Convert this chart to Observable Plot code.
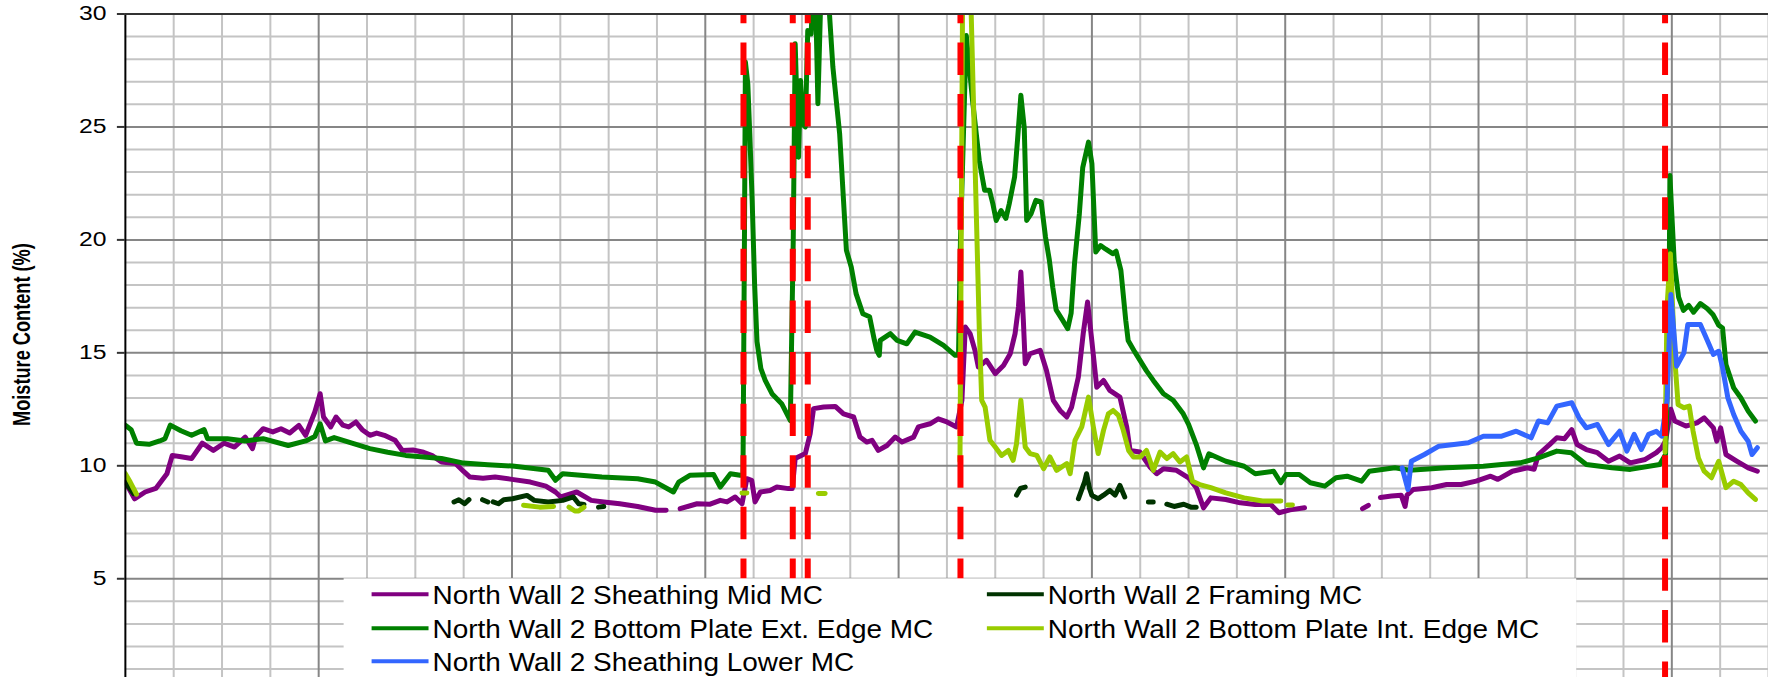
<!DOCTYPE html>
<html><head><meta charset="utf-8">
<script src="https://cdn.jsdelivr.net/npm/d3@7"></script>
<script src="https://cdn.jsdelivr.net/npm/@observablehq/plot@0.6"></script>
<style>
html,body{margin:0;padding:0;background:#fff;overflow:hidden}
#wrap{position:relative;width:1768px;height:677px;overflow:hidden;background:#fff}
</style></head><body><div id="wrap"></div>
<script>
// ---- Data (x = elapsed time in grid units, y = moisture content %) ----
const seriesNames = [
  "North Wall 2 Sheathing Mid MC",
  "North Wall 2 Framing MC",
  "North Wall 2 Bottom Plate Ext. Edge MC",
  "North Wall 2 Bottom Plate Int. Edge MC",
  "North Wall 2 Sheathing Lower MC"
];
const seriesColors = ["#800080", "#003300", "#008000", "#99cc00", "#3366ff"];

const sheathingMid = [[0,9.28],[0.19,8.54],[0.41,8.84],[0.63,9.0],[0.86,9.65],[0.97,10.46],[1.15,10.4],[1.37,10.32],[1.59,11.0],[1.82,10.68],[2.04,11.0],[2.26,10.83],[2.48,11.27],[2.63,10.76],[2.7,11.3],[2.85,11.64],[3.05,11.5],[3.22,11.64],[3.4,11.45],[3.59,11.79],[3.73,11.35],[3.92,12.38],[4.03,13.19],[4.1,12.16],[4.25,11.72],[4.36,12.16],[4.5,11.8],[4.62,11.72],[4.77,11.94],[4.9,11.6],[5.06,11.35],[5.2,11.45],[5.36,11.35],[5.58,11.13],[5.73,10.68],[5.95,10.7],[6.17,10.6],[6.35,10.45],[6.54,10.17],[6.83,10.1],[7.0,9.75],[7.13,9.5],[7.4,9.45],[7.65,9.5],[8.0,9.4],[8.38,9.28],[8.7,9.1],[8.9,8.84],[9.01,8.62],[9.34,8.84],[9.64,8.47],[9.9,8.4],[10.23,8.32],[10.6,8.2],[10.97,8.03],[11.19,8.03],[11.3,null],[11.48,8.1],[11.83,8.32],[12.1,8.3],[12.31,8.47],[12.45,8.4],[12.62,8.62],[12.76,8.32],[12.86,9.43],[12.96,9.36],[13.03,8.4],[13.14,8.84],[13.34,8.91],[13.48,9.06],[13.72,8.99],[13.8,9.0],[13.86,10.32],[14.07,10.54],[14.17,11.42],[14.24,12.53],[14.45,12.6],[14.69,12.63],[14.86,12.3],[15.07,12.16],[15.2,11.27],[15.34,11.05],[15.45,11.13],[15.58,10.68],[15.76,10.9],[15.93,11.27],[16.07,11.05],[16.31,11.27],[16.41,11.72],[16.65,11.86],[16.82,12.08],[17.0,11.94],[17.2,11.72],[17.31,12.9],[17.38,16.14],[17.48,15.85],[17.58,15.11],[17.65,14.37],[17.82,14.67],[18.0,14.08],[18.17,14.44],[18.31,14.96],[18.41,15.85],[18.48,17.03],[18.53,18.58],[18.58,16.5],[18.62,14.52],[18.72,14.96],[18.93,15.11],[19.06,14.22],[19.2,12.9],[19.34,12.45],[19.48,12.16],[19.58,12.6],[19.72,13.93],[19.82,15.85],[19.91,17.25],[20.0,15.5],[20.1,13.48],[20.24,13.78],[20.37,13.34],[20.58,13.04],[20.72,11.72],[20.79,10.68],[20.99,10.61],[21.2,9.95],[21.34,9.65],[21.48,9.87],[21.75,9.8],[22.0,9.47],[22.16,9.03],[22.31,8.14],[22.46,8.58],[22.77,8.51],[23.07,8.36],[23.38,8.29],[23.7,8.29],[23.87,7.92],[24.1,8.05],[24.4,8.14],[24.5,null],[25.6,8.1],[25.72,8.25],[25.8,null],[25.97,8.6],[26.2,8.66],[26.4,8.7],[26.48,8.2],[26.52,8.7],[26.65,8.95],[27.03,9.03],[27.34,9.17],[27.64,9.17],[27.95,9.32],[28.25,9.54],[28.4,9.4],[28.7,9.76],[29.01,9.91],[29.15,9.85],[29.24,10.5],[29.47,10.94],[29.62,11.24],[29.78,11.2],[29.93,11.6],[30.04,10.94],[30.23,10.72],[30.46,10.58],[30.69,10.2],[30.92,10.43],[31.14,10.13],[31.45,10.28],[31.68,10.58],[31.79,10.8],[31.87,11.1],[31.98,12.5],[32.06,11.98],[32.29,11.76],[32.52,11.9],[32.67,12.12],[32.86,11.68],[32.93,11.09],[33.01,11.68],[33.12,10.5],[33.35,10.2],[33.58,9.91],[33.77,9.76]];

const framing = [[0,9.28],[0.17,8.77],[0.2,null],[6.8,8.4],[6.9,8.5],[7.02,8.32],[7.11,8.5],[7.2,null],[7.39,8.5],[7.5,8.4],[7.55,null],[7.61,8.4],[7.72,8.32],[7.83,8.5],[8.01,8.54],[8.31,8.69],[8.46,8.47],[8.75,8.4],[9.05,8.47],[9.27,8.62],[9.38,8.32],[9.49,8.29],[9.6,null],[9.79,8.17],[9.9,8.2],[10.0,null],[18.44,8.7],[18.52,9.0],[18.62,9.06],[18.7,null],[19.72,8.54],[19.85,9.3],[19.89,9.65],[19.95,9.0],[20.0,8.69],[20.13,8.54],[20.24,8.7],[20.37,8.91],[20.48,8.7],[20.58,9.13],[20.68,8.62],[20.8,null],[21.17,8.4],[21.27,8.4],[21.4,null],[21.55,8.3],[21.7,8.2],[21.9,8.3],[22.05,8.17],[22.16,8.17]];

const plateExt = [[0,11.79],[0.12,11.6],[0.23,11.0],[0.49,10.95],[0.71,11.1],[0.82,11.2],[0.93,11.8],[1.15,11.55],[1.37,11.35],[1.63,11.6],[1.7,11.2],[2.11,11.2],[2.48,11.1],[2.85,11.2],[3.37,10.9],[3.73,11.1],[3.92,11.3],[4.03,11.86],[4.14,11.1],[4.32,11.25],[4.69,11.0],[5.06,10.76],[5.43,10.6],[5.8,10.46],[6.54,10.32],[7.0,10.12],[7.5,10.05],[8.01,9.99],[8.75,9.8],[8.9,9.36],[9.05,9.65],[9.86,9.5],[10.6,9.43],[10.97,9.28],[11.34,8.84],[11.45,9.28],[11.68,9.58],[12.17,9.62],[12.31,9.06],[12.52,9.65],[12.72,9.58],[12.78,9.6],[12.81,20],[12.83,27.87],[12.88,26.9],[12.92,24.7],[12.97,21.75],[13.02,18.06],[13.07,15.5],[13.15,14.3],[13.24,13.78],[13.38,13.19],[13.58,12.75],[13.76,12.0],[13.82,20],[13.86,28.68],[13.93,23.66],[13.97,27.06],[14.02,25.14],[14.07,25.0],[14.12,29.27],[14.19,29.12],[14.23,31],[14.28,31],[14.33,26.03],[14.4,31.5],[14.54,31],[14.64,27.65],[14.78,24.7],[14.92,19.54],[15.02,18.8],[15.12,17.62],[15.26,16.73],[15.4,16.6],[15.5,15.55],[15.55,15.1],[15.6,14.89],[15.62,15.55],[15.83,15.85],[15.97,15.55],[16.17,15.4],[16.34,15.92],[16.65,15.7],[16.93,15.33],[17.17,14.89],[17.24,14.89],[17.28,20],[17.4,29.05],[17.53,26.17],[17.67,23.5],[17.78,22.2],[17.88,22.2],[17.95,21.6],[18.02,20.86],[18.12,21.3],[18.22,20.95],[18.29,21.6],[18.4,22.78],[18.46,24.4],[18.53,26.4],[18.6,24.96],[18.65,20.86],[18.74,21.15],[18.84,21.75],[18.95,21.68],[19.04,20.12],[19.12,19.1],[19.19,17.9],[19.26,16.9],[19.39,16.46],[19.5,16.07],[19.57,16.75],[19.64,18.95],[19.74,21.15],[19.81,23.2],[19.93,24.33],[20.0,23.38],[20.08,19.46],[20.18,19.75],[20.28,19.6],[20.43,19.39],[20.5,19.5],[20.6,18.65],[20.7,16.44],[20.75,15.55],[20.89,15.03],[21.13,14.2],[21.27,13.78],[21.48,13.19],[21.68,12.9],[21.89,12.3],[22.0,11.83],[22.16,10.94],[22.31,9.91],[22.42,10.53],[22.77,10.2],[23.15,9.98],[23.38,9.65],[23.76,9.76],[23.91,9.25],[24.02,9.62],[24.29,9.62],[24.52,9.25],[24.82,9.1],[25.05,9.47],[25.28,9.54],[25.58,9.32],[25.74,9.76],[26.27,9.91],[26.57,9.8],[27.34,9.91],[28.1,9.98],[28.86,10.13],[29.24,10.35],[29.62,10.65],[29.92,10.58],[30.23,10.06],[30.76,9.91],[31.14,9.84],[31.75,10.06],[31.87,10.5],[31.94,16],[31.96,22.85],[32.05,19],[32.14,17.47],[32.24,16.88],[32.35,17.1],[32.45,16.8],[32.59,17.18],[32.73,16.96],[32.85,16.7],[32.97,16.22],[33.05,16.1],[33.12,14.48],[33.28,13.45],[33.43,13.0],[33.58,12.42],[33.73,11.98]];

const plateInt = [[0,9.65],[0.1,9.28],[0.23,8.74],[0.3,null],[8.24,8.25],[8.57,8.17],[8.86,8.2],[9.0,null],[9.18,8.17],[9.3,8.0],[9.38,8.0],[9.49,8.17],[9.6,null],[12.76,8.8],[12.86,8.8],[12.9,null],[14.34,8.77],[14.48,8.77],[14.6,null],[17.27,10.2],[17.33,33],[17.47,33],[17.5,30.2],[17.67,16.0],[17.72,12.9],[17.79,12.6],[17.89,11.13],[18.0,10.83],[18.13,10.46],[18.27,10.68],[18.37,10.24],[18.44,10.98],[18.53,12.9],[18.62,10.83],[18.72,10.54],[18.86,10.46],[19.0,9.87],[19.13,10.39],[19.27,9.8],[19.48,10.1],[19.55,9.65],[19.65,11.13],[19.79,11.72],[19.93,13.04],[20.03,11.72],[20.13,10.54],[20.24,11.57],[20.34,12.3],[20.44,12.45],[20.55,12.23],[20.65,11.57],[20.76,10.68],[20.86,10.39],[21.0,10.39],[21.13,10.68],[21.27,9.8],[21.41,10.61],[21.55,10.32],[21.68,10.54],[21.82,10.17],[21.96,10.39],[22.08,9.32],[22.23,9.17],[22.46,9.03],[22.77,8.8],[23.15,8.58],[23.53,8.44],[23.91,8.44],[24.0,null],[24.05,8.26],[24.15,8.26],[24.2,null],[31.86,10.6],[31.9,17],[31.97,19.39],[32.06,14.78],[32.13,12.71],[32.25,12.57],[32.36,12.64],[32.44,11.53],[32.55,10.35],[32.67,9.76],[32.82,9.47],[32.97,10.2],[33.12,9.03],[33.28,9.32],[33.43,9.17],[33.58,8.8],[33.73,8.51]];

const sheathingLower = [[26.42,9.91],[26.54,8.95],[26.61,10.2],[26.88,10.5],[27.18,10.87],[27.49,10.94],[27.79,11.02],[28.1,11.31],[28.48,11.31],[28.78,11.53],[29.09,11.24],[29.24,11.98],[29.43,11.9],[29.62,12.64],[29.93,12.79],[30.08,12.12],[30.23,11.68],[30.46,11.83],[30.69,10.94],[30.92,11.53],[31.07,10.65],[31.22,11.39],[31.37,10.72],[31.52,11.39],[31.68,11.53],[31.79,11.31],[31.9,12.86],[31.98,17.58],[32.1,14.41],[32.25,15.0],[32.33,16.25],[32.59,16.25],[32.74,15.52],[32.86,14.93],[32.97,15.07],[33.05,14.34],[33.16,13.0],[33.28,12.27],[33.43,11.53],[33.58,11.09],[33.66,10.5],[33.77,10.8]];

const seriesData = [sheathingMid, framing, plateExt, plateInt, sheathingLower];

// event markers (red dashed verticals)
const eventX = [12.79, 13.81, 14.12, 17.28, 31.86];

// axis ticks / grid
const yTicks = [5, 10, 15, 20, 25, 30];
const yMinor = d3.range(1, 30).filter(v => v % 5 !== 0);
const yMajor = [5, 10, 15, 20, 25];
const xMinor = d3.range(1, 35).filter(v => v % 4 !== 0);
const xMajor = d3.range(4, 35, 4);
const yLabel = "Moisture Content (%)";

// ---- Build rows ----
const rows = seriesData.map((arr, i) =>
  arr.map(([x, y]) => ({x, y: y === null ? NaN : y, series: seriesNames[i]})));

const chart = Plot.plot({
  width: 1770,
  height: 692,
  marginTop: 13.5,
  marginBottom: 0,
  marginLeft: 125,
  marginRight: 0,
  style: {fontFamily: "'Liberation Sans', Arial, sans-serif", color: "#000", background: "#fff"},
  x: {domain: [0, 34], axis: null},
  y: {domain: [0, 30], axis: null},
  marks: [
    Plot.ruleY(yMinor, {stroke: "#c4c4c4", strokeWidth: 2}),
    Plot.ruleX(xMinor, {stroke: "#c4c4c4", strokeWidth: 2}),
    Plot.ruleY(yMajor, {stroke: "#868686", strokeWidth: 2}),
    Plot.ruleX(xMajor, {stroke: "#868686", strokeWidth: 2}),
    ...rows.map((r, i) => Plot.line(r, {x: "x", y: "y", stroke: seriesColors[i], strokeWidth: 5, clip: true})),
    Plot.ruleX(eventX, {stroke: "#ff0000", strokeWidth: 6, strokeDasharray: "32.5,19.15", strokeDashoffset: 22.6}),
    Plot.ruleX([0], {stroke: "#000", strokeWidth: 2}),
    Plot.ruleY([30], {stroke: "#333", strokeWidth: 2}),
    Plot.axisY({ticks: yTicks, tickSize: 8, tickPadding: 11, label: null, fontSize: 19.5, stroke: "#333", strokeWidth: 2})
  ]
});

document.getElementById("wrap").appendChild(chart);

// stretch tick labels horizontally like the original
d3.select(chart).selectAll('[aria-label="y-axis tick label"] text').each(function() {
  const t = this.getAttribute("transform") || "";
  const x = +(this.getAttribute("x") || 0);
  this.removeAttribute("x");
  this.setAttribute("transform", `${t} translate(${x},0) scale(1.27,1)`);
});

const svg = d3.select(chart);
// y-axis title
svg.append("text")
  .attr("transform", "translate(30,335) scale(1.3,1) rotate(-90)")
  .attr("text-anchor", "middle")
  .attr("font-weight", "bold")
  .attr("font-size", 18.2)
  .attr("fill", "#000")
  .text(yLabel);

// legend
const lg = svg.append("g").attr("text-anchor", "start");
lg.append("rect").attr("x", 344).attr("y", 579).attr("width", 1234).attr("height", 130).attr("fill", "#fff");
const legendSlots = [[0,0],[1,0],[0,1],[1,1],[0,2]];
const colX = [372, 988];
const rowY = [595, 629, 662];
seriesNames.forEach((name, i) => {
  const [c, r] = legendSlots[i];
  lg.append("line").attr("x1", colX[c]).attr("x2", colX[c] + 57)
    .attr("y1", rowY[r]).attr("y2", rowY[r])
    .attr("stroke", seriesColors[i]).attr("stroke-width", 4);
  lg.append("text")
    .attr("transform", `translate(${colX[c] + 61},${rowY[r] + 10}) scale(1.12,1)`)
    .attr("text-anchor", "start")
    .attr("font-size", 25).attr("fill", "#000").text(name);
});
</script></body></html>
